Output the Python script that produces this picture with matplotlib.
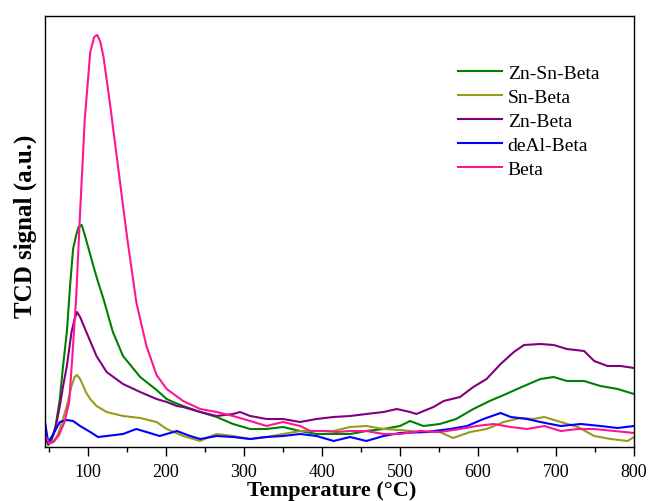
import matplotlib
matplotlib.use("Agg")
import matplotlib.pyplot as plt
from matplotlib.ticker import MultipleLocator

# TCD profiles (temperature in C, signal in arbitrary units)
t_znsn = [45, 49, 53, 58, 64, 68, 73, 77, 81, 85, 88, 92, 96, 101, 107, 113, 120, 132, 145, 167, 180, 188, 201, 209, 222, 244, 265, 286, 308, 329, 350, 372, 393, 415, 436, 457, 479, 500, 513, 530, 551, 572, 594, 615, 636, 659, 680, 697, 714, 736, 757, 779, 800]
y_znsn = [10, 2, 6, 18, 48, 80, 115, 160, 198, 212, 220, 222, 212, 198, 181, 165, 148, 115, 91, 70, 62, 57, 48, 45, 41, 35, 30, 23, 18, 18, 20, 16, 13, 13, 13, 16, 18, 21, 26, 21, 23, 28, 38, 46, 53, 61, 68, 70, 66, 66, 61, 58, 53]

t_sn = [45, 50, 55, 60, 64, 68, 73, 79, 83, 86, 90, 94, 98, 103, 111, 124, 145, 167, 188, 201, 222, 244, 255, 265, 286, 308, 329, 350, 372, 393, 415, 436, 457, 479, 500, 526, 551, 568, 590, 611, 633, 654, 671, 685, 706, 728, 749, 770, 792, 800]
y_sn = [10, 3, 5, 10, 18, 28, 41, 61, 70, 72, 68, 61, 54, 48, 41, 35, 31, 29, 25, 18, 11, 6, 10, 13, 11, 8, 10, 13, 16, 16, 16, 20, 21, 18, 17, 15, 15, 9, 15, 18, 25, 29, 28, 30, 25, 20, 11, 8, 6, 10]

t_zn = [45, 50, 55, 60, 64, 68, 73, 79, 83, 86, 90, 98, 111, 124, 145, 167, 188, 201, 214, 222, 244, 265, 286, 295, 308, 329, 350, 372, 393, 415, 436, 457, 479, 496, 513, 521, 543, 556, 577, 594, 611, 629, 646, 659, 680, 697, 714, 736, 749, 766, 783, 800]
y_zn = [8, 3, 11, 25, 41, 60, 81, 115, 128, 135, 130, 115, 91, 75, 63, 55, 48, 45, 41, 40, 35, 31, 33, 35, 31, 28, 28, 25, 28, 30, 31, 33, 35, 38, 35, 33, 40, 46, 50, 60, 68, 83, 95, 102, 103, 102, 98, 96, 86, 81, 81, 79]

t_deal = [45, 49, 55, 64, 73, 81, 90, 103, 113, 124, 145, 162, 175, 192, 214, 231, 244, 265, 286, 308, 329, 350, 372, 393, 415, 436, 457, 479, 500, 534, 564, 586, 607, 629, 642, 663, 680, 706, 732, 757, 779, 800]
y_deal = [25, 5, 12, 25, 27, 26, 21, 15, 10, 11, 13, 18, 15, 11, 16, 11, 8, 11, 10, 8, 10, 11, 13, 11, 6, 10, 6, 11, 14, 15, 18, 21, 28, 34, 30, 28, 25, 21, 23, 21, 19, 21]

t_beta = [45, 50, 56, 63, 70, 76, 80, 85, 90, 96, 103, 108, 112, 116, 120, 128, 139, 150, 162, 175, 188, 201, 222, 244, 265, 286, 308, 329, 350, 372, 385, 402, 419, 436, 457, 479, 500, 526, 551, 577, 598, 620, 642, 663, 685, 706, 728, 749, 775, 800]
y_beta = [12, 4, 5, 12, 25, 45, 90, 150, 235, 328, 395, 410, 412, 405, 390, 345, 278, 211, 145, 101, 72, 58, 46, 38, 35, 31, 26, 21, 25, 21, 16, 16, 15, 16, 16, 13, 13, 16, 15, 18, 21, 23, 20, 18, 21, 16, 18, 18, 16, 14]

labels = ["Zn-Sn-Beta", "Sn-Beta", "Zn-Beta", "deAl-Beta", "Beta"]
colors = ["#008000", "#9a9a1a", "#800080", "#0000ff", "#ff1493"]

plt.rcParams["font.family"] = ["Liberation Serif", "DejaVu Serif"]

fig = plt.figure(figsize=(6.49, 5.02), dpi=100)
ax = fig.add_axes([45 / 649, 54 / 502, 589 / 649, 431 / 502])

series = [(t_znsn, y_znsn), (t_sn, y_sn), (t_zn, y_zn), (t_deal, y_deal), (t_beta, y_beta)]
for (t, y), lab, c in zip(series, labels, colors):
    ax.plot(t, y, color=c, lw=1.5, label=lab)

ax.set_xlim(45, 800)
ax.set_ylim(0, 431)
ax.xaxis.set_major_locator(MultipleLocator(100))
ax.xaxis.set_minor_locator(MultipleLocator(50))
ax.set_xticks(range(100, 801, 100))
ax.tick_params(axis="x", which="major", direction="out", length=6.5, width=1, labelsize=13, pad=5)
ax.tick_params(axis="x", which="minor", direction="out", length=3.5, width=1)
ax.tick_params(axis="y", left=False, labelleft=False)
for s in ax.spines.values():
    s.set_linewidth(1.0)

# x label sits right at the bottom edge, as in the reference
fig.text(332 / 649, 6 / 502, "Temperature (°C)", fontsize=16, fontweight="bold",
         ha="center", va="baseline")
ax.set_ylabel("TCD signal (a.u.)", fontsize=18, fontweight="bold", labelpad=6)
ax.yaxis.label.set_y(0.515)

ax.legend(loc="upper left", bbox_to_anchor=(458 / 649, 1 - 65 / 502), bbox_transform=fig.transFigure,
          frameon=False, fontsize=14, borderpad=0, borderaxespad=0,
          handlelength=2.25, handletextpad=0.3, labelspacing=0.33)

fig.savefig("out.png", dpi=100)
